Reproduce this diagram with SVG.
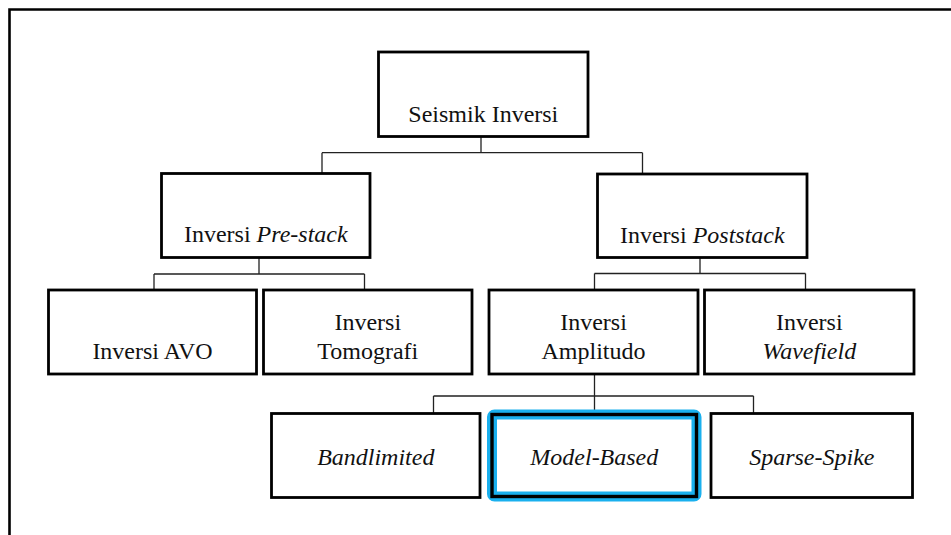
<svg xmlns="http://www.w3.org/2000/svg" width="951" height="535" viewBox="0 0 951 535">
<style>
.box{fill:#fff;stroke:#000;stroke-width:2.8}
.sel{fill:none;stroke:#1ab0ee;stroke-width:10}
.t{font-family:"Liberation Serif","Times New Roman",serif;font-size:24px;fill:#111;text-anchor:middle}
.i{font-style:italic}
.c{fill:none;stroke:#222;stroke-width:1.3}
</style>
<rect width="951" height="535" fill="#fff"/>
<path d="M9.5,535 V9.5 H951" fill="none" stroke="#000" stroke-width="2.6"/>
<g id="connectors">
<path class="c" d="M481,136.5 V152.7 M322,152.7 H642.5 M322,152.7 V173.5 M642.5,152.7 V174"/>
<path class="c" d="M259,257.5 V274 M154,274 H364.5 M154,274 V290 M364.5,274 V290"/>
<path class="c" d="M700,257.5 V273.5 M594.5,273.5 H805.5 M594.5,273.5 V290 M805.5,273.5 V290"/>
<path class="c" d="M594.5,374 V414 M433.5,396 H753.5 M433.5,396 V413.5 M753.5,396 V413.5"/>
</g>
<g id="root">
<rect class="box" x="378.5" y="52" width="209.5" height="84.5"/>
<text class="t" x="483.3" y="121.7">Seismik Inversi</text>
</g>
<g id="prestack">
<rect class="box" x="161.5" y="173.5" width="208.5" height="84"/>
<text class="t" x="265.8" y="241.7">Inversi <tspan class="i">Pre-stack</tspan></text>
</g>
<g id="poststack">
<rect class="box" x="597.5" y="174" width="209.5" height="83.5"/>
<text class="t" x="702.3" y="242.5">Inversi <tspan class="i">Poststack</tspan></text>
</g>
<g id="avo">
<rect class="box" x="48.5" y="290" width="208" height="84"/>
<text class="t" x="152.5" y="359">Inversi AVO</text>
</g>
<g id="tomografi">
<rect class="box" x="263.5" y="290" width="208.5" height="84"/>
<text class="t" x="367.8" y="330">Inversi</text>
<text class="t" x="367.8" y="359">Tomografi</text>
</g>
<g id="amplitudo">
<rect class="box" x="489" y="290" width="209" height="84"/>
<text class="t" x="593.5" y="330">Inversi</text>
<text class="t" x="593.5" y="359">Amplitudo</text>
</g>
<g id="wavefield">
<rect class="box" x="704.5" y="290" width="209.5" height="84"/>
<text class="t" x="809.3" y="330">Inversi</text>
<text class="t i" x="809.3" y="359">Wavefield</text>
</g>
<g id="bandlimited">
<rect class="box" x="271.5" y="413.5" width="208.5" height="84"/>
<text class="t i" x="375.8" y="465">Bandlimited</text>
</g>
<g id="modelbased">
<rect class="sel" x="492" y="414.5" width="204.5" height="82" rx="2.5"/>
<rect x="492" y="414.5" width="204.5" height="82" fill="none" stroke="#000" stroke-width="3.4"/>
<text class="t i" x="594.3" y="465">Model-Based</text>
</g>
<g id="sparsespike">
<rect class="box" x="711" y="413.5" width="201.5" height="84"/>
<text class="t i" x="811.8" y="465">Sparse-Spike</text>
</g>
</svg>
